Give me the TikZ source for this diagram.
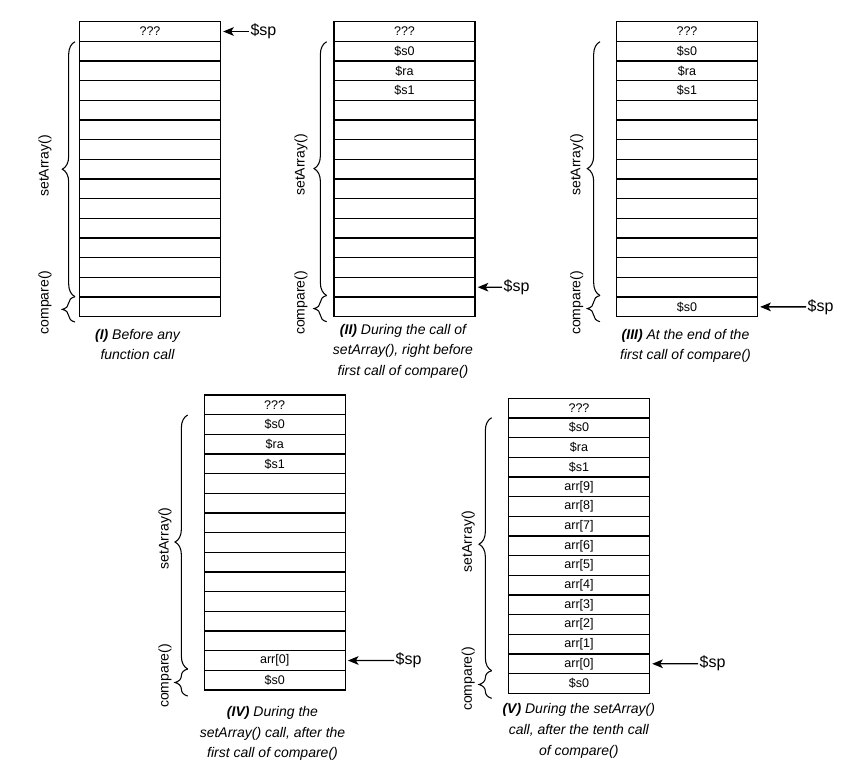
\documentclass[tikz,border=0pt]{standalone}
\usepackage{fontspec}
\setmainfont{Liberation Sans}
\usetikzlibrary{arrows.meta,decorations.pathreplacing}
\tikzset{
  cell/.style={draw,line width=1pt,minimum width=105.75pt,minimum height=14.75pt,inner sep=0pt,
    font=\fontsize{9.4}{10}\selectfont},
  frame/.style={draw,line width=0.8pt,decorate,decoration={brace,amplitude=9.5pt}},
  fname/.style={rotate=90,font=\fontsize{10.5}{12}\selectfont},
  spname/.style={anchor=west,inner sep=1pt,font=\fontsize{12}{14}\selectfont},
  sparrow/.style={line width=1pt,-{Stealth[length=8pt,width=6.5pt,inset=2pt]},shorten >=1.5pt},
  caption/.style={align=center,font=\itshape\fontsize{10.5}{15.5}\selectfont}
}
\begin{document}
\begin{tikzpicture}[x=0.75pt,y=-0.75pt]
\useasboundingbox (0,0) rectangle (856,767);
% (I)
\foreach \t [count=\i from 0] in {???,{},{},{},{},{},{},{},{},{},{},{},{},{},{}}
  \node[cell] (I\i) at (150,{31.5+\i*19.67}) {\t};
\node[spname] (spI) at (249,31.5) {\$sp};
\draw[sparrow] (spI.west) -- (I0.east);
\draw[frame] (75,296.7) -- (75,41.7);
\draw[frame] (75,322) -- (75,296.7);
\node[fname] (saI) at (45,166) {setArray()};
\node[fname] (cpI) at (45,302.5) {compare()};
\node[caption] (capI) at (137.5,344.5) {\textbf{(I)} Before any\\function call};
% (II)
\foreach \t [count=\i from 0] in {???,\$s0,\$ra,\$s1,{},{},{},{},{},{},{},{},{},{},{}}
  \node[cell] (II\i) at (404.5,{31.5+\i*19.67}) {\t};
\node[spname] (spII) at (502,287.2) {\$sp};
\draw[sparrow] (spII.west) -- (II13.east);
\draw[frame] (326.7,295.5) -- (326.7,41.7);
\draw[frame] (326.7,321.7) -- (326.7,295.5);
\node[fname] (saII) at (301,165) {setArray()};
\node[fname] (cpII) at (301,303) {compare()};
\node[caption] (capII) at (403,351.3) {\textbf{(II)} During the call of\\setArray(), right before\\first call of compare()};
% (III)
\foreach \t [count=\i from 0] in {???,\$s0,\$ra,\$s1,{},{},{},{},{},{},{},{},{},{},\$s0}
  \node[cell] (III\i) at (687,{31.5+\i*19.67}) {\t};
\node[spname] (spIII) at (806,306.9) {\$sp};
\draw[sparrow] (spIII.west) -- (III14.east);
\draw[frame] (600,295.5) -- (600,41.7);
\draw[frame] (600,321.7) -- (600,295.5);
\node[fname] (saIII) at (576.7,165) {setArray()};
\node[fname] (cpIII) at (576.7,303) {compare()};
\node[caption] (capIII) at (685.5,345.9) {\textbf{(III)} At the end of the\\first call of compare()};
% (IV)
\foreach \t [count=\i from 0] in {???,\$s0,\$ra,\$s1,{},{},{},{},{},{},{},{},{},arr[0],\$s0}
  \node[cell] (IV\i) at (274.7,{404.8+\i*19.67}) {\t};
\node[spname] (spIV) at (394,660.5) {\$sp};
\draw[sparrow] (spIV.west) -- (IV13.east);
\draw[frame] (187.7,669) -- (187.7,415);
\draw[frame] (187.7,696) -- (187.7,669);
\node[fname] (saIV) at (165,538.3) {setArray()};
\node[fname] (cpIV) at (165,676) {compare()};
\node[caption] (capIV) at (272.5,733.5) {\textbf{(IV)} During the\\setArray() call, after the\\first call of compare()};
% (V)
\foreach \t [count=\i from 0] in {???,\$s0,\$ra,\$s1,arr[9],arr[8],arr[7],arr[6],arr[5],arr[4],arr[3],arr[2],arr[1],arr[0],\$s0}
  \node[cell] (V\i) at (579,{408.1+\i*19.67}) {\t};
\node[spname] (spV) at (698,663.7) {\$sp};
\draw[sparrow] (spV.west) -- (V13.east);
\draw[frame] (491.7,670.7) -- (491.7,417.7);
\draw[frame] (491.7,698.3) -- (491.7,670.7);
\node[fname] (saV) at (468.3,541.3) {setArray()};
\node[fname] (cpV) at (468.3,679) {compare()};
\node[caption] (capV) at (578.8,730.8) {\textbf{(V)} During the setArray()\\call, after the tenth call\\of compare()};
\end{tikzpicture}
\end{document}
